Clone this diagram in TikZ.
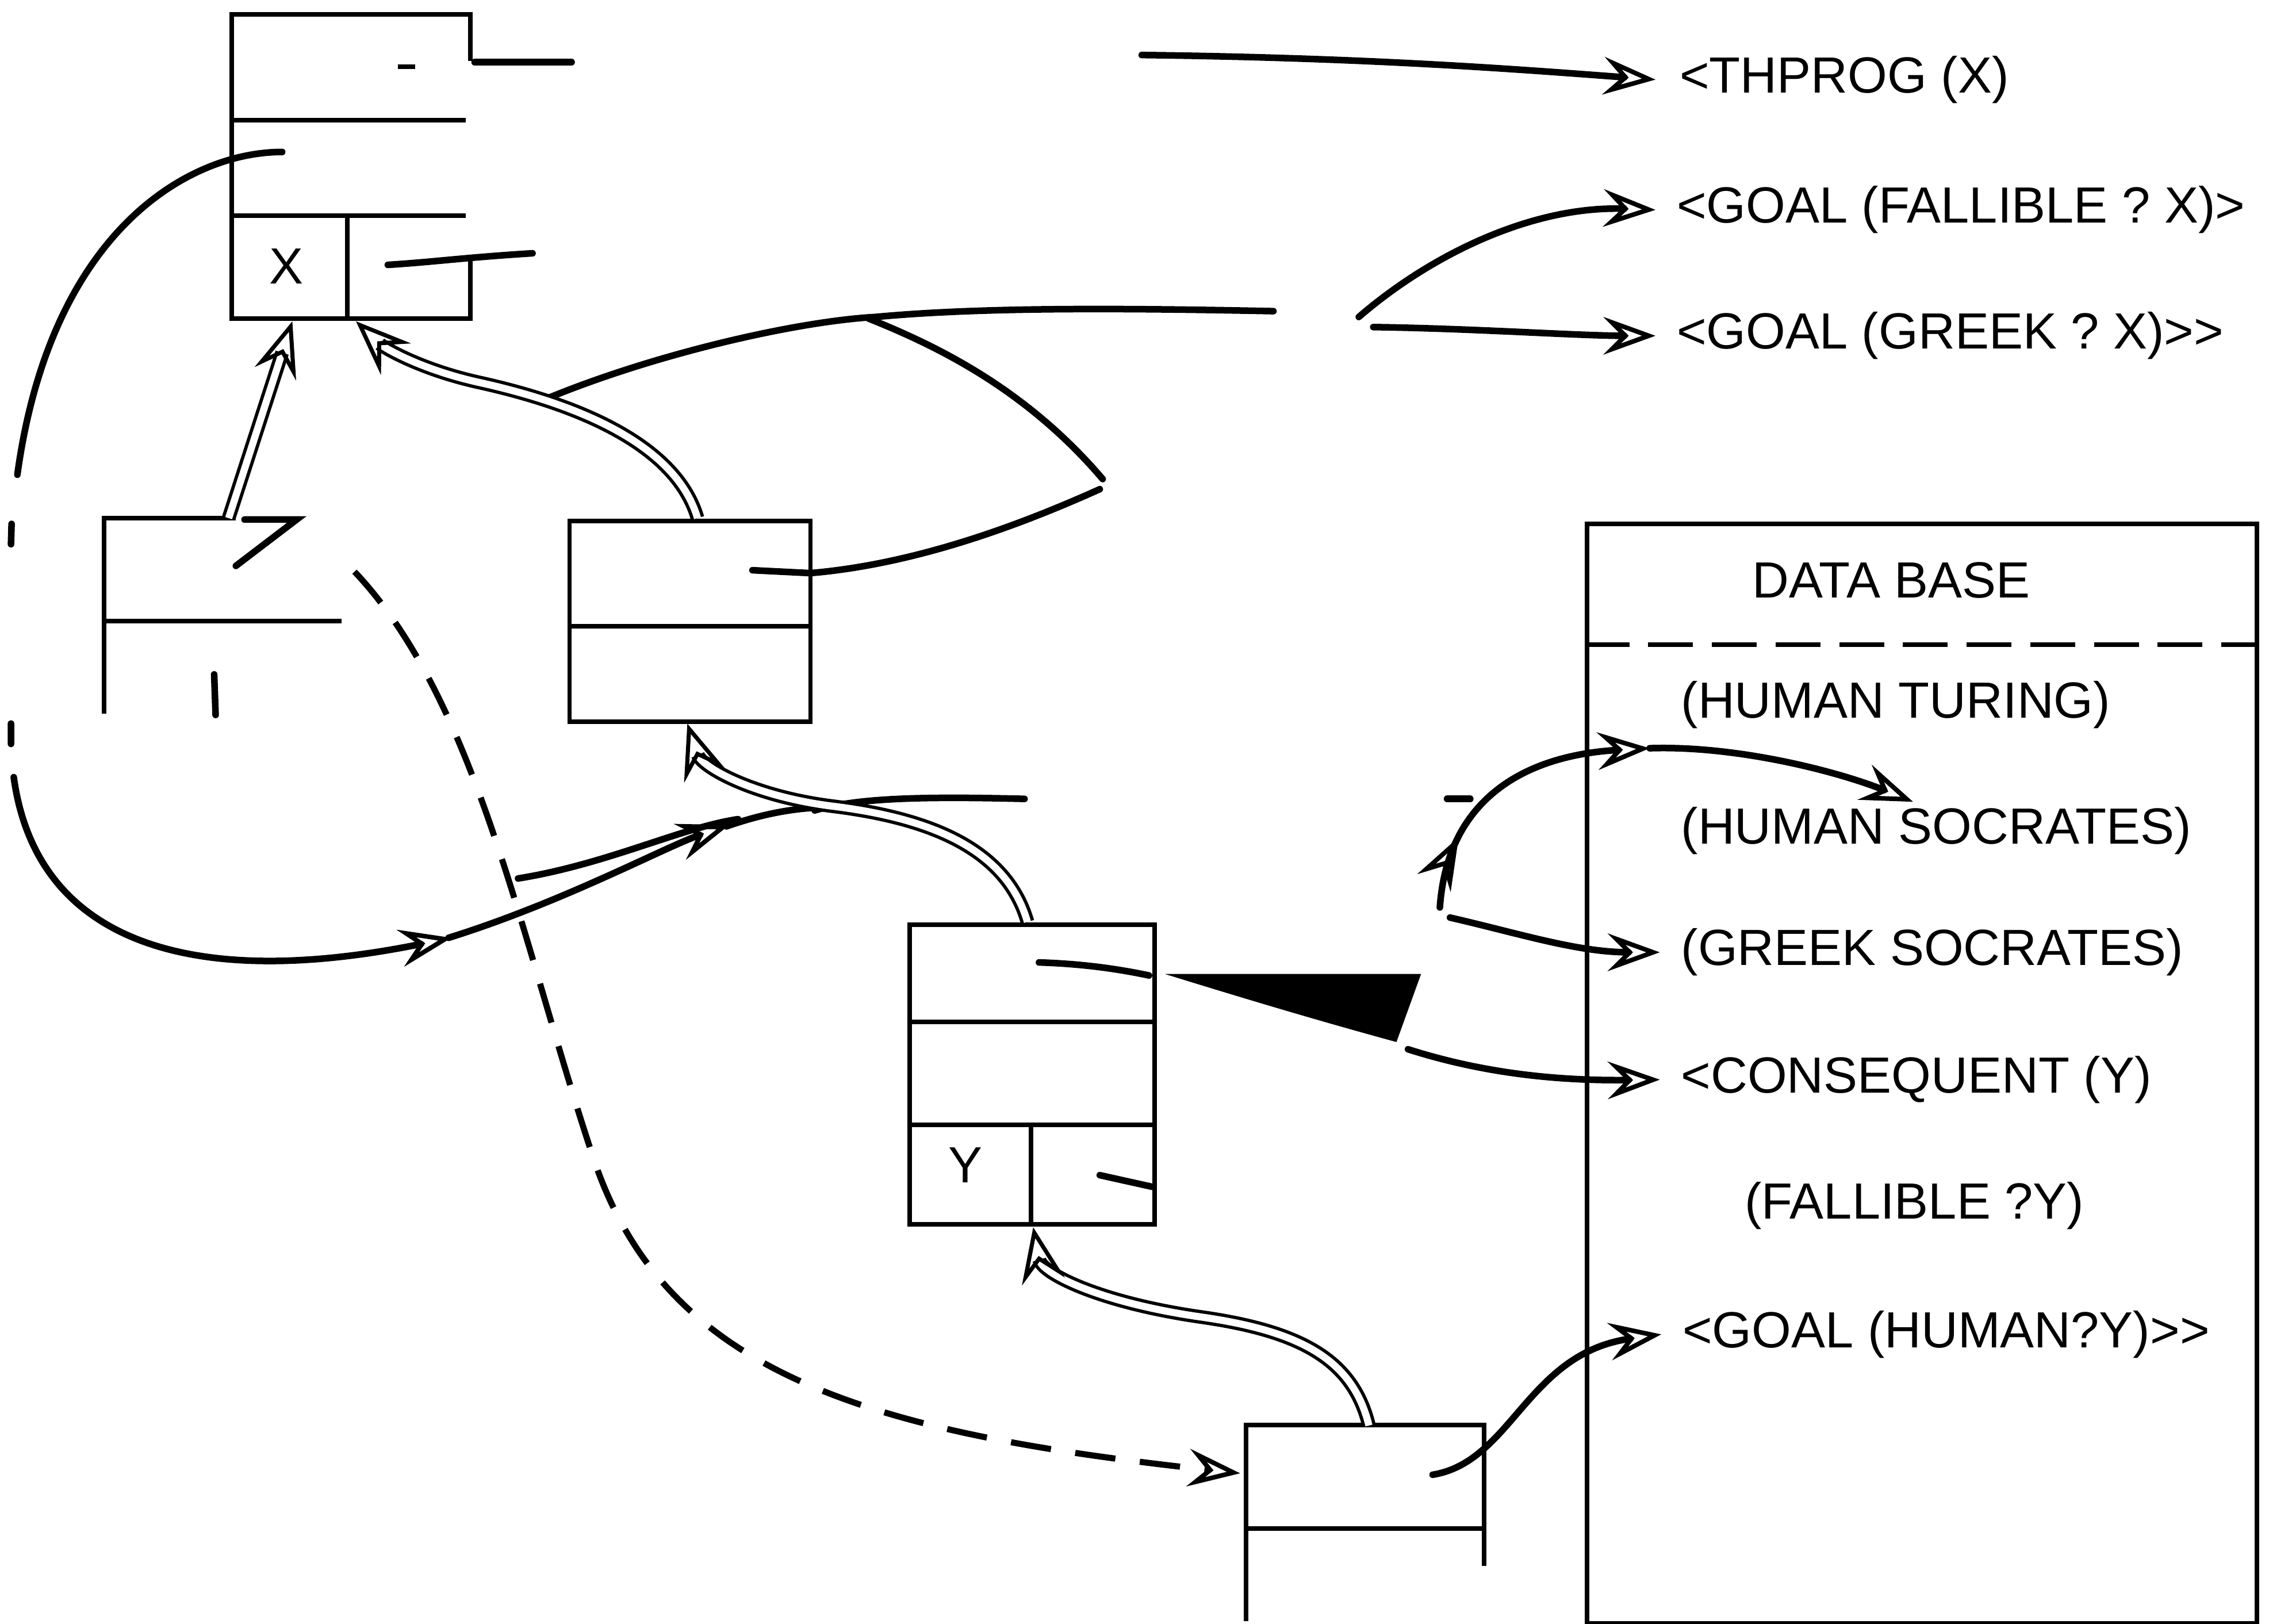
\documentclass[tikz,border=0pt]{standalone}
\usepackage{fontspec}
\setmainfont{Liberation Sans}
\usepackage{tikz}
\usetikzlibrary{arrows.meta,positioning,calc,decorations.markings}

\begin{document}
\begin{tikzpicture}[
  cell/.style={line width=0.9pt},
  boxframe/.style={cell,draw,inner sep=0pt,anchor=north west},
  ptr/.style={line width=1.3pt,line cap=round},
  arr/.style={ptr,-{Stealth[open,length=3.6mm,width=2.6mm,inset=1.3mm,line width=0.9pt]}},
  dbl/.style={double,double distance=1.4pt,line width=0.65pt,-{Stealth[open,length=3.8mm,width=3mm,inset=1.4mm,line width=0.8pt]}},
  dsh/.style={line width=1.2pt,dash pattern=on 2.8mm off 1.7mm,-{Stealth[open,length=3.6mm,width=2.6mm,inset=1.3mm,line width=0.9pt]}},
  lbl/.style={font=\fontsize{10}{12}\selectfont,inner sep=0pt,anchor=west},
  midarr/.style={postaction={decorate},decoration={markings,mark=at position #1 with {\arrow{Stealth[open,length=3.6mm,width=2.6mm,inset=1.3mm,line width=0.9pt]}}}}
]
\useasboundingbox (0,0) rectangle (15.68,-11.22);

\node[lbl] (thprog) at (11.60,-0.55) {<THPROG (X)};
\node[lbl] (goalf) at (11.58,-1.45) {<GOAL (FALLIBLE ? X)>};
\node[lbl] (goalg) at (11.58,-2.32) {<GOAL (GREEK ? X)>{}>};

\draw[cell] (3.25,-0.42) |- (1.60,-0.10) |- (3.25,-2.20) -- (3.25,-1.76);
\draw[cell] (1.60,-0.83) -- (3.22,-0.83) (1.60,-1.49) -- (3.22,-1.49) (2.40,-1.49) -- (2.40,-2.20);
\draw[cell] (2.75,-0.46) -- (2.87,-0.46);
\node[lbl,anchor=center] (xvar) at (1.98,-1.84) {X};
\draw[ptr] (3.28,-0.43) -- (3.95,-0.43);
\draw[ptr] (2.68,-1.83) .. controls (3.0,-1.81) and (3.2,-1.78) .. (3.68,-1.75);
\draw[arr] (7.89,-0.38) .. controls (9.5,-0.40) and (10.5,-0.48) .. ([xshift=-1.6mm]thprog.west);

\draw[cell] (1.63,-3.58) -- (0.72,-3.58) -- (0.72,-4.93);
\draw[ptr] (1.69,-3.59) -- (2.05,-3.59) -- (1.63,-3.91);
\draw[cell] (0.72,-4.29) -- (2.36,-4.29);
\draw[ptr] (1.48,-4.66) -- (1.49,-4.94);
\draw[dbl] (1.58,-3.58) -- (2.02,-2.22);

\node[boxframe,minimum width=1.665cm,minimum height=1.385cm] (boxC) at (3.92,-3.585) {};
\draw[cell] ($(boxC.north west)!0.523!(boxC.south west)$) -- ($(boxC.north east)!0.523!(boxC.south east)$);
\draw[ptr] (5.20,-3.94) -- (5.60,-3.96) .. controls (6.3,-3.90) and (7.0,-3.65) .. (7.60,-3.38);
\draw[ptr] (7.62,-3.31) .. controls (7.1,-2.7) and (6.5,-2.4) .. (6.00,-2.20);
\draw[ptr] (3.74,-2.77) .. controls (4.5,-2.45) and (5.5,-2.22) .. (6.05,-2.19) .. controls (6.8,-2.12) and (7.8,-2.13) .. (8.80,-2.15);
\draw[arr] (9.39,-2.19) .. controls (9.9,-1.75) and (10.6,-1.42) .. ([xshift=-1.4mm]goalf.west);
\draw[arr] (9.49,-2.26) .. controls (10.2,-2.27) and (10.9,-2.32) .. ([xshift=-1.4mm]goalg.west);
\draw[dbl] (4.82,-3.58) .. controls (4.65,-3.0) and (3.8,-2.75) .. (3.3,-2.64) .. controls (2.9,-2.55) and (2.65,-2.40) .. (2.46,-2.22);

\draw[ptr] (1.95,-1.05) .. controls (1.30,-1.05) and (0.35,-1.60) .. (0.12,-3.28);
\draw[ptr] (0.08,-3.62) -- (0.076,-3.76) (0.076,-5.00) -- (0.076,-5.14);
\draw[arr] (0.095,-5.37) .. controls (0.25,-6.5) and (1.3,-6.85) .. (3.12,-6.48);
\draw[arr] (3.10,-6.48) .. controls (3.9,-6.23) and (4.6,-5.85) .. (5.04,-5.70);
\draw[ptr] (5.02,-5.71) .. controls (5.25,-5.63) and (5.45,-5.59) .. (5.65,-5.58);
\draw[ptr] (3.58,-6.07) .. controls (4.2,-5.97) and (4.7,-5.72) .. (5.10,-5.66);
\draw[ptr] (5.63,-5.60) .. controls (5.9,-5.52) and (6.3,-5.50) .. (7.08,-5.52);
\draw[dsh] (2.45,-3.95) .. controls (3.3,-4.85) and (3.6,-6.5) .. (4.1,-8.0) .. controls (4.6,-9.5) and (6.0,-9.9) .. (8.57,-10.18);

\node[boxframe,minimum width=1.695cm,minimum height=2.07cm] (boxD) at (6.27,-6.375) {};
\draw[cell] ($(boxD.north west)!0.326!(boxD.south west)$) -- ($(boxD.north east)!0.326!(boxD.south east)$)
  ($(boxD.north west)!0.664!(boxD.south west)$) -- ($(boxD.north east)!0.664!(boxD.south east)$);
\draw[cell] ($(boxD.south west)!0.494!(boxD.south east)$) -- +(0,0.70);
\node[lbl,anchor=center] (yvar) at (6.67,-8.05) {Y};
\draw[dbl] (7.10,-6.37) .. controls (6.95,-5.85) and (6.4,-5.65) .. (5.75,-5.57) .. controls (5.2,-5.50) and (4.85,-5.30) .. (4.75,-5.00);
\draw[ptr] (7.18,-6.65) .. controls (7.5,-6.66) and (7.75,-6.70) .. (7.94,-6.74);
\fill (8.05,-6.73) -- (9.82,-6.73) -- (9.65,-7.20) .. controls (9.1,-7.05) and (8.6,-6.90) .. cycle;
\draw[ptr] (7.60,-8.12) -- (7.96,-8.20);

\node[boxframe,minimum width=4.63cm,minimum height=7.595cm] (db) at (10.95,-3.605) {};
\draw[cell,dash pattern=on 3.1mm off 1.3mm] (db.west |- 0,-4.455) -- (db.east |- 0,-4.455);
\node[lbl,anchor=center] (dbtitle) at (13.07,-4.01) {DATA BASE};
\node[lbl] (humt) at (11.61,-4.87) {(HUMAN TURING)};
\node[lbl] (hums) at (11.61,-5.74) {(HUMAN SOCRATES)};
\node[lbl] (greeks) at (11.61,-6.58) {(GREEK SOCRATES)};
\node[lbl] (conseq) at (11.61,-7.46) {<CONSEQUENT (Y)};
\node[lbl] (fally) at (12.05,-8.33) {(FALLIBLE ?Y)};
\node[lbl] (goalh) at (11.62,-9.22) {<GOAL (HUMAN?Y)>{}>};
\coordinate (socr) at (13.22,-5.54);

\draw[arr] (9.73,-7.25) .. controls (10.2,-7.40) and (10.7,-7.47) .. ([xshift=-1.4mm]conseq.west);
\draw[ptr] (10.00,-5.52) -- (10.16,-5.52);
\draw[arr,midarr=0.25] (9.95,-6.27) .. controls (10.0,-5.55) and (10.5,-5.22) .. (11.40,-5.17);
\draw[arr] (11.40,-5.17) .. controls (12.0,-5.15) and (12.7,-5.33) .. (socr);
\draw[arr] (10.02,-6.34) .. controls (10.5,-6.45) and (10.9,-6.58) .. ([xshift=-1.4mm]greeks.west);

\draw[cell] (8.61,-11.20) |- (10.255,-9.845) -- (10.255,-10.82);
\draw[cell] (8.61,-10.56) -- (10.255,-10.56);
\draw[dbl] (9.46,-9.85) .. controls (9.35,-9.4) and (9.0,-9.2) .. (8.3,-9.1) .. controls (7.6,-9.0) and (7.2,-8.8) .. (7.14,-8.48);
\draw[arr] (9.90,-10.19) .. controls (10.45,-10.1) and (10.55,-9.35) .. ([xshift=-1.4mm]goalh.west);
\end{tikzpicture}
\end{document}
